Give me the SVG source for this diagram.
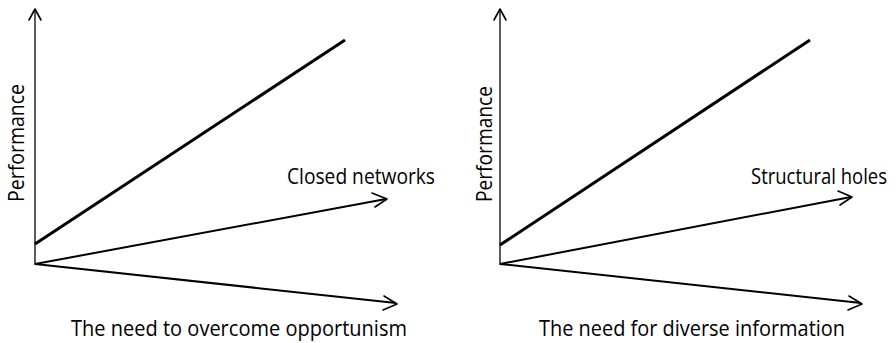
<svg xmlns="http://www.w3.org/2000/svg" width="896" height="343" viewBox="0 0 896 343">
  <style>
    .axis { stroke: #333; stroke-width: 1.6; fill: none; }
    .bold { stroke: #000; stroke-width: 3; fill: none; }
    .thin { stroke: #000; stroke-width: 2; fill: none; }
    .head { stroke: #000; stroke-width: 1.6; fill: none; stroke-linecap: round; stroke-linejoin: round; }
    text { font-family: "Open Sans", "Noto Sans", "Liberation Sans", sans-serif; font-size: 21px; fill: #000; }
  </style>
  <rect width="896" height="343" fill="#fff"/>

  <!-- Left chart -->
  <g id="left-chart">
    <g id="left-connectors">
      <line class="axis" x1="35" y1="265" x2="35" y2="9"/>
      <polyline class="head" points="29,20 35,9 41,20"/>
      <line class="bold" x1="35" y1="244" x2="345" y2="40"/>
      <line class="thin" x1="35" y1="264" x2="386" y2="199"/>
      <polyline class="head" points="372,193 387,199 375,207"/>
      <line class="thin" x1="35" y1="264" x2="396" y2="303"/>
      <polyline class="head" points="384,296 397,304 383,310"/>
    </g>
    <g id="left-labels">
      <text x="0" y="0" transform="translate(24,202) rotate(-90)" textLength="118" lengthAdjust="spacingAndGlyphs">Performance</text>
      <text x="287" y="184" textLength="148" lengthAdjust="spacingAndGlyphs">Closed networks</text>
      <text x="71" y="336" textLength="336" lengthAdjust="spacingAndGlyphs">The need to overcome opportunism</text>
    </g>
  </g>

  <!-- Right chart -->
  <g id="right-chart">
    <g id="right-connectors">
      <line class="axis" x1="500" y1="265" x2="500" y2="9"/>
      <polyline class="head" points="494,20 500,9 506,20"/>
      <line class="bold" x1="500" y1="245" x2="810" y2="40"/>
      <line class="thin" x1="500" y1="264" x2="851" y2="197"/>
      <polyline class="head" points="838,191 852,197 840,205"/>
      <line class="thin" x1="500" y1="264" x2="861" y2="303"/>
      <polyline class="head" points="849,296 862,304 848,310"/>
    </g>
    <g id="right-labels">
      <text x="0" y="0" transform="translate(492,202) rotate(-90)" textLength="116" lengthAdjust="spacingAndGlyphs">Performance</text>
      <text x="751" y="184" textLength="136" lengthAdjust="spacingAndGlyphs">Structural holes</text>
      <text x="539" y="336" textLength="306" lengthAdjust="spacingAndGlyphs">The need for diverse information</text>
    </g>
  </g>
</svg>
